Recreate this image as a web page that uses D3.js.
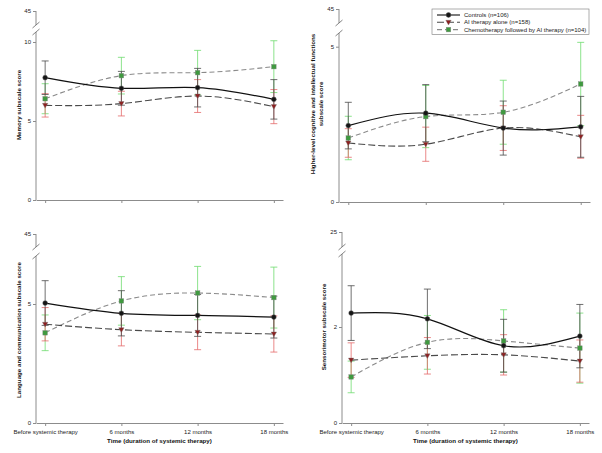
<!DOCTYPE html>
<html>
<head>
<meta charset="utf-8">
<script src="https://cdn.jsdelivr.net/npm/d3@7"></script>
<style>
  body { margin: 0; background: #fff; }
  svg { font-family: "Liberation Sans", Arial, sans-serif; }
</style>
</head>
<body>
<svg id="chart" width="602" height="453"></svg>
<script>
// time points
const timeLabels = ['Before systemic therapy', '6 months', '12 months', '18 months'];

// series names (legend)
const seriesNames = ['Controls (n=106)', 'AI therapy alone (n=158)', 'Chemotherapy followed by AI therapy (n=104)'];

// Memory subscale
const memCtrl = [7.74, 7.07, 7.11, 6.37];
const memCtrlErr = [1.06, 1.07, 1.22, 1.25];
const memAI = [5.99, 6.10, 6.58, 5.91];
const memAIErr = [0.74, 0.78, 1.04, 1.08];
const memChemo = [6.41, 7.87, 8.06, 8.44];
const memChemoErr = [0.95, 1.16, 1.41, 1.64];

// Higher-level cognitive subscale
const highCtrl = [2.46, 2.86, 2.38, 2.42];
const highCtrlErr = [0.75, 0.92, 0.87, 0.98];
const highAI = [1.90, 1.86, 2.38, 2.10];
const highAIErr = [0.46, 0.55, 0.72, 0.69];
const highChemo = [2.06, 2.75, 2.89, 3.80];
const highChemoErr = [0.70, 1.00, 1.03, 1.34];

// Language subscale
const langCtrl = [5.04, 4.61, 4.52, 4.45];
const langCtrlErr = [0.94, 0.95, 0.88, 0.88];
const langAI = [4.15, 3.92, 3.81, 3.74];
const langAIErr = [0.70, 0.68, 0.73, 0.76];
const langChemo = [3.79, 5.13, 5.46, 5.27];
const langChemoErr = [0.75, 1.02, 1.12, 1.28];

// Sensorimotor subscale
const sensCtrl = [2.29, 2.17, 1.61, 1.81];
const sensCtrlErr = [0.57, 0.62, 0.55, 0.66];
const sensAI = [1.31, 1.40, 1.42, 1.29];
const sensAIErr = [0.36, 0.38, 0.42, 0.44];
const sensChemo = [0.96, 1.68, 1.71, 1.56];
const sensChemoErr = [0.33, 0.56, 0.65, 0.73];

// y tick values
const memTicks = [0, 5, 10, 45];
const highTicks = [0, 5, 45];
const langTicks = [0, 5, 45];
const sensTicks = [0, 2, 25];

const styles = [
  { line: '#111', dash: null, err: '#4a4a4a', marker: 'circle', fill: '#151515', stroke: '#555' },
  { line: '#4a4a4a', dash: '7,3', err: '#e46a6a', marker: 'tri', fill: '#8e1f1f', stroke: '#777' },
  { line: '#8a8a8a', dash: '5,3', err: '#6fdc6f', marker: 'square', fill: '#3f9a3f', stroke: '#888' }
];

const panels = [
  { title: ['Memory subscale score'], labelX: 19, labelY: 105,
    ax: 36, axEnd: 283, y0: 200, yMid: 42, mid: 10, top: 45, yTop: 11, lowTopY: 32, upBotY: 25,
    ticks: memTicks, xlabels: false,
    series: [[memCtrl, memCtrlErr], [memAI, memAIErr], [memChemo, memChemoErr]] },
  { title: ['Higher-level cognitive and intellectual functions', 'subscale score'], labelX: 313, labelY: 104,
    ax: 339, axEnd: 590, y0: 202, yMid: 46.7, mid: 5, top: 45, yTop: 9, lowTopY: 33, upBotY: 23,
    ticks: highTicks, xlabels: false, legend: true,
    series: [[highCtrl, highCtrlErr], [highAI, highAIErr], [highChemo, highChemoErr]] },
  { title: ['Language and communication subscale score'], labelX: 19, labelY: 330,
    ax: 36, axEnd: 283, y0: 423, yMid: 304, mid: 5, top: 45, yTop: 234, lowTopY: 256, upBotY: 247,
    ticks: langTicks, xlabels: true,
    series: [[langCtrl, langCtrlErr], [langAI, langAIErr], [langChemo, langChemoErr]] },
  { title: ['Sensorimotor subscale score'], labelX: 324, labelY: 327,
    ax: 342, axEnd: 589, y0: 423, yMid: 327, mid: 2, top: 25, yTop: 232, lowTopY: 254, upBotY: 247,
    ticks: sensTicks, xlabels: true,
    series: [[sensCtrl, sensCtrlErr], [sensAI, sensAIErr], [sensChemo, sensChemoErr]] }
];

const svg = d3.select('#chart');
const axisColor = '#8c8c8c';

function drawMarker(g, type, x, y, st) {
  if (type === 'circle') {
    g.append('circle').attr('cx', x).attr('cy', y).attr('r', 2.4)
      .attr('fill', st.fill).attr('stroke', st.stroke).attr('stroke-width', 0.5);
  } else if (type === 'tri') {
    g.append('path').attr('d', `M${x - 2.7},${y - 2}L${x + 2.7},${y - 2}L${x},${y + 2.7}Z`)
      .attr('fill', st.fill).attr('stroke', st.stroke).attr('stroke-width', 0.4);
  } else {
    g.append('rect').attr('x', x - 2.3).attr('y', y - 2.3).attr('width', 4.6).attr('height', 4.6)
      .attr('fill', st.fill).attr('stroke', st.stroke).attr('stroke-width', 0.4);
  }
}

panels.forEach(p => {
  const pxPerUnit = (p.y0 - p.yMid) / p.mid;
  const lowTopVal = (p.y0 - p.lowTopY) / pxPerUnit;
  const upBotVal = p.top - (p.upBotY - p.yTop) / pxPerUnit;

  const yScale = d3.scaleLinear()
    .domain([0, lowTopVal, upBotVal, p.top])
    .range([p.y0, p.lowTopY, p.upBotY, p.yTop]);

  const xScale = d3.scalePoint()
    .domain(timeLabels)
    .range([p.ax, p.axEnd])
    .padding(0.12);

  const g = svg.append('g');

  // x axis
  const xAxis = d3.axisBottom(xScale).tickSize(3).tickSizeOuter(0)
    .tickFormat(p.xlabels ? (d => d) : () => '');
  const xAxisG = g.append('g').attr('transform', `translate(0,${p.y0})`).call(xAxis);
  xAxisG.select('.domain').attr('stroke', axisColor);
  xAxisG.selectAll('.tick line').attr('stroke', axisColor);
  xAxisG.selectAll('.tick text').attr('font-size', 6).attr('fill', '#222').attr('dy', '0.9em')
    .attr('font-family', '"Liberation Sans", Arial, sans-serif');

  // y axis with a break
  const yAxis = d3.axisLeft(yScale).tickValues(p.ticks).tickSize(3).tickPadding(2);
  const yAxisG = g.append('g').attr('transform', `translate(${p.ax},0)`).call(yAxis);
  yAxisG.select('.domain').remove();
  yAxisG.selectAll('.tick line').attr('stroke', axisColor);
  yAxisG.selectAll('.tick text').attr('font-size', 6).attr('fill', '#222')
    .attr('font-family', '"Liberation Sans", Arial, sans-serif');
  g.append('line').attr('x1', p.ax).attr('x2', p.ax)
    .attr('y1', yScale(0)).attr('y2', yScale(lowTopVal)).attr('stroke', axisColor);
  g.append('line').attr('x1', p.ax).attr('x2', p.ax)
    .attr('y1', yScale(upBotVal)).attr('y2', yScale(p.top)).attr('stroke', axisColor);
  [p.lowTopY, p.upBotY].forEach(yy => {
    g.append('line').attr('x1', p.ax - 3.5).attr('x2', p.ax + 3.5)
      .attr('y1', yy + 3).attr('y2', yy - 3).attr('stroke', '#666').attr('stroke-width', 0.8);
  });

  // y label
  const lbl = g.append('text')
    .attr('transform', `translate(${p.labelX},${p.labelY}) rotate(-90)`)
    .attr('text-anchor', 'middle').attr('font-size', 6.2).attr('font-weight', 'bold').attr('fill', '#111');
  p.title.forEach((t, i) => {
    lbl.append('tspan').attr('x', 0).attr('dy', i === 0 ? '0.35em' : '1.25em').text(t);
  });

  // x title
  if (p.xlabels) {
    g.append('text').attr('x', (p.ax + p.axEnd) / 2).attr('y', 443)
      .attr('text-anchor', 'middle').attr('font-size', 6.2).attr('font-weight', 'bold').attr('fill', '#111')
      .text('Time (duration of systemic therapy)');
  }

  // error bars
  const errG = g.append('g');
  [2, 1, 0].forEach(si => {
    const [vals, errs] = p.series[si];
    const st = styles[si];
    vals.forEach((v, i) => {
      const x = xScale(timeLabels[i]);
      const yHi = yScale(v + errs[i]), yLo = yScale(v - errs[i]);
      errG.append('line').attr('x1', x).attr('x2', x).attr('y1', yHi).attr('y2', yLo)
        .attr('stroke', st.err).attr('stroke-width', 0.8);
      [yHi, yLo].forEach(yy => {
        errG.append('line').attr('x1', x - 3.5).attr('x2', x + 3.5).attr('y1', yy).attr('y2', yy)
          .attr('stroke', st.err).attr('stroke-width', 0.8);
      });
    });
  });

  // lines
  const line = d3.line()
    .x((d, i) => xScale(timeLabels[i]))
    .y(d => yScale(d))
    .curve(d3.curveNatural);
  [2, 1, 0].forEach(si => {
    const st = styles[si];
    g.append('path').datum(p.series[si][0]).attr('d', line)
      .attr('fill', 'none').attr('stroke', st.line).attr('stroke-width', si === 0 ? 1.2 : 1.1)
      .attr('stroke-dasharray', st.dash);
  });

  // markers
  [2, 1, 0].forEach(si => {
    const st = styles[si];
    p.series[si][0].forEach((v, i) => drawMarker(g, st.marker, xScale(timeLabels[i]), yScale(v), st));
  });

  // legend
  if (p.legend) {
    const lg = g.append('g');
    lg.append('rect').attr('x', 432).attr('y', 9).attr('width', 157).attr('height', 25.5)
      .attr('fill', '#fff').attr('stroke', '#777').attr('stroke-width', 0.6);
    seriesNames.forEach((name, i) => {
      const yy = 15 + i * 7.3;
      const st = styles[i];
      lg.append('line').attr('x1', 437).attr('x2', 460).attr('y1', yy).attr('y2', yy)
        .attr('stroke', st.line).attr('stroke-width', 1.1).attr('stroke-dasharray', st.dash);
      drawMarker(lg, st.marker, 448.5, yy, st);
      lg.append('text').attr('x', 464).attr('y', yy).attr('dy', '0.35em')
        .attr('font-size', 6).attr('fill', '#222').text(name);
    });
  }
});
</script>
</body>
</html>
